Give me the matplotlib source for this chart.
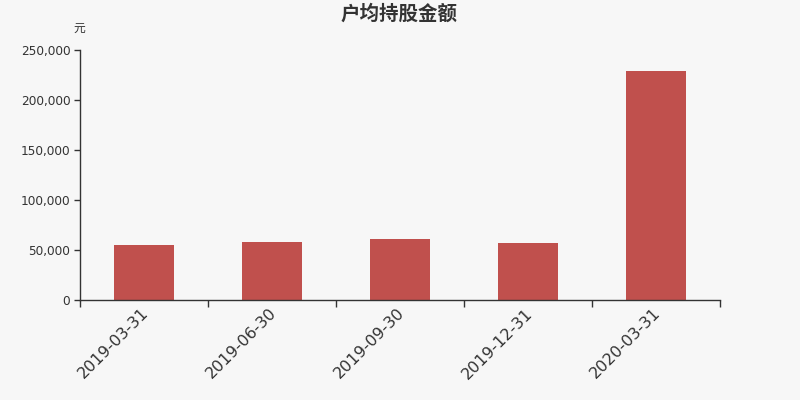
import matplotlib.pyplot as plt
import matplotlib.transforms as mtransforms
from matplotlib.ticker import FuncFormatter

plt.rcParams['font.family'] = ['Noto Sans CJK SC', 'DejaVu Sans']

dates = ['2019-03-31', '2019-06-30', '2019-09-30', '2019-12-31', '2020-03-31']
amounts = [55000, 57700, 60700, 56700, 228700]
yticks = [0, 50000, 100000, 150000, 200000, 250000]

bg = '#f7f7f7'
ink = '#333333'

fig = plt.figure(figsize=(8, 4), dpi=100, facecolor=bg)
ax = fig.add_axes([0.1, 0.25, 0.8, 0.625], facecolor=bg)

x = list(range(len(dates)))
ax.bar(x, amounts, width=0.47, color='#c0504d', zorder=2)

ax.set_xlim(-0.5, len(dates) - 0.5)
ax.set_ylim(0, 250000)
ax.set_yticks(yticks)
ax.yaxis.set_major_formatter(FuncFormatter(lambda v, p: f'{int(v):,}'))
ax.tick_params(axis='y', length=4, width=1, color=ink, labelcolor=ink,
               labelsize=8.7, pad=3)
for lbl in ax.get_yticklabels():
    lbl.set_family('DejaVu Sans')

# category ticks at the boundaries, labels under the bars
ax.set_xticks([i - 0.5 for i in range(len(dates) + 1)])
ax.set_xticklabels([])
ax.tick_params(axis='x', length=5, width=1, color=ink)
ax.set_xticks(x, minor=True)
ax.set_xticklabels(dates, minor=True, rotation=45, ha='right',
                   rotation_mode='anchor', fontsize=11.5, color=ink,
                   family='DejaVu Sans')
ax.tick_params(axis='x', which='minor', length=0, pad=4)
shift = mtransforms.ScaledTranslation(-3.5 / 100, 0, fig.dpi_scale_trans)
for lbl in ax.get_xticklabels(minor=True):
    lbl.set_transform(lbl.get_transform() + shift)

for side in ['top', 'right']:
    ax.spines[side].set_visible(False)
for side in ['left', 'bottom']:
    ax.spines[side].set_color(ink)
    ax.spines[side].set_linewidth(1)

fig.text(0.499, 0.965, '户均持股金额', ha='center', va='center',
         fontsize=14, fontweight='bold', color=ink)
fig.text(0.099, 0.93, '元', ha='center', va='center', fontsize=8.5, color=ink)

fig.savefig('out.png', dpi=100, facecolor=bg)
